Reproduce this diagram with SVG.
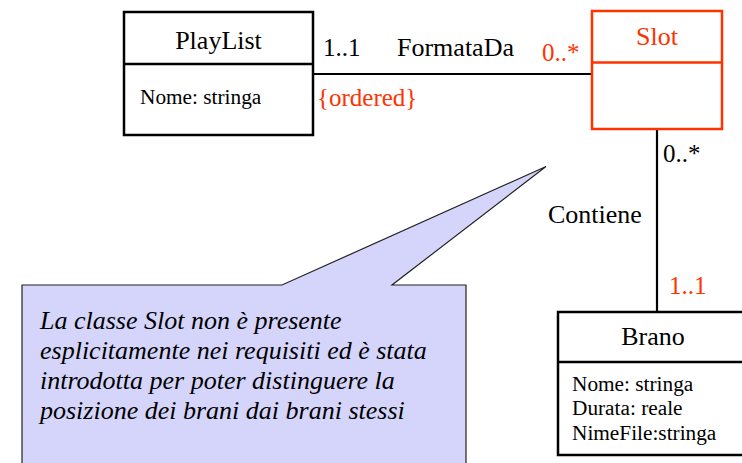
<svg xmlns="http://www.w3.org/2000/svg" width="742" height="463" viewBox="0 0 742 463">
  <style>
    text { font-family: "Liberation Serif", "Times New Roman", serif; fill: #000; }
    .title { font-size: 26px; text-anchor: middle; }
    .attr { font-size: 21.3px; }
    .lbl { font-size: 26px; }
    .mult { font-size: 25px; }
    .red { fill: #ff3300; }
    .box { fill: #fff; stroke: #000; stroke-width: 2.5; }
    .rbox { fill: #fff; stroke: #ff3300; stroke-width: 2.5; }
    .conn { stroke: #000; stroke-width: 2.2; fill: none; }
    .note { fill: #d5d5fb; stroke: #222; stroke-width: 1.2; }
    .notetext { font-size: 26px; font-style: italic; }
  </style>

  <g id="connectors">
    <line class="conn" x1="313" y1="74" x2="592" y2="74"/>
    <line class="conn" x1="657" y1="129" x2="657" y2="312"/>
    <text class="mult" x="323" y="56">1..1</text>
    <text class="lbl" x="397" y="56">FormataDa</text>
    <text class="mult red" x="542" y="61">0..*</text>
    <text class="mult red" x="317" y="106">{ordered}</text>
    <text class="mult" x="663" y="162">0..*</text>
    <text class="lbl" x="548" y="223">Contiene</text>
    <text class="mult red" x="669" y="294">1..1</text>
  </g>

  <g id="playlist">
    <rect class="box" x="124" y="12" width="189" height="123"/>
    <line class="conn" x1="124" y1="64" x2="313" y2="64" style="stroke-width:2.5"/>
    <text class="title" x="218.5" y="49">PlayList</text>
    <text class="attr" x="140" y="104">Nome: stringa</text>
  </g>

  <g id="slot">
    <rect class="rbox" x="592" y="11" width="130" height="118"/>
    <line x1="592" y1="62.5" x2="722" y2="62.5" stroke="#ff3300" stroke-width="2.5"/>
    <text class="title red" x="657" y="45">Slot</text>
  </g>

  <g id="brano">
    <rect class="box" x="558" y="312" width="200" height="143"/>
    <line class="conn" x1="558" y1="362" x2="742" y2="362" style="stroke-width:2.5"/>
    <text class="title" x="653" y="345">Brano</text>
    <text class="attr" x="572" y="391">Nome: stringa</text>
    <text class="attr" x="572" y="415">Durata: reale</text>
    <text class="attr" x="572" y="440">NimeFile:stringa</text>
  </g>

  <g id="note">
    <path class="note" d="M22,285 L282,285 L546,166.5 L392,285 L466,285 L466,470 L22,470 Z"/>
    <text class="notetext" x="40" y="329">La classe Slot non è presente</text>
    <text class="notetext" x="40" y="359">esplicitamente nei requisiti ed è stata</text>
    <text class="notetext" x="40" y="389">introdotta per poter distinguere la</text>
    <text class="notetext" x="40" y="419">posizione dei brani dai brani stessi</text>
  </g>
</svg>
